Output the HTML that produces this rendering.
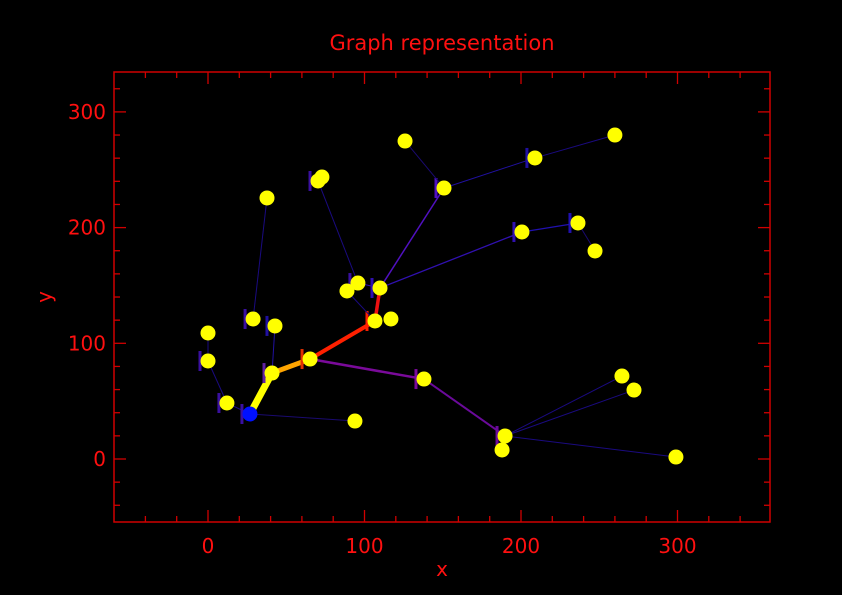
<!DOCTYPE html>
<html><head><meta charset="utf-8"><style>
body{margin:0;background:#000;}
svg{display:block;font-family:"DejaVu Sans","Liberation Sans",sans-serif;}
</style></head><body>
<svg id="chart" width="842" height="595" viewBox="0 0 842 595">
<rect width="842" height="595" fill="#000"/>
<text x="442" y="50" fill="#ff1010" font-size="21" text-anchor="middle">Graph representation</text>
<g id="axes"></g><g id="edges"></g><g id="nodes"></g>
<text x="442" y="576" fill="#ff1010" font-size="20" text-anchor="middle">x</text>
<text x="51" y="297" fill="#ff1010" font-size="20" text-anchor="middle" transform="rotate(-90 51 297)">y</text>
</svg>
<script>
const nodeIds = ["A","B","C","D","E","F","G","H","I","J","K","L","M","N","O","P","Q","R","S","T","U","V","W","X","Y","Z","AA","AB","AC","AD"];
const nodeX = [26.8,12.1,0,0,40.9,65.2,106.7,116.9,109.9,88.8,95.8,70.3,72.8,28.8,37.7,42.8,93.9,138,189.8,187.9,264.5,272.2,299,150.8,125.9,208.9,260,200.6,236.4,247.3];
const nodeY = [38.9,48.4,84.7,108.9,74.3,86.4,119.3,121,147.8,145.2,152.1,240.3,243.7,121,225.6,115,32.8,69.1,19.9,7.8,71.7,59.6,1.7,234.2,274.8,260.2,280,196.2,204,179.8];
const edgeFrom = ["A","B","D","A","E","F","G","I","X","X","Z","I","AB","AC","E","O","F","R","S","S","S","S","Q","K","M","J","L"];
const edgeTo   = ["B","C","C","E","F","G","I","X","Y","Z","AA","AB","AC","AD","P","N","R","S","T","U","V","W","A","I","L","G","K"];
const edgeWidth= [1,1,1,7,5,4,3.5,1.5,1,1,1,1.3,1.3,1,1,1,2.5,2,1,1,1,1,1,1,1,1,1];
const edgeColor= ["#1a0a80","#1a0a80","#1a0a80","#ffff00","#ffa500","#ff2000","#ee1010","#5010c0","#1a0a70","#2010a0","#1a0a80","#3010b0","#2010b0","#1a0a70","#2010a0","#1a0a80","#7a0a9a","#6a0a9a","#1a0a80","#1a0a80","#1a0a80","#1a0a80","#1a0a70","#3010b0","#1a0a80","#1a0a80","#1a0a80"];
const edgeMarker=[1,1,0,1,1,1,1,1,0,1,0,1,1,0,1,1,1,1,0,0,0,0,1,1,1,0,1];
const xTicks=[0,100,200,300], yTicks=[0,100,200,300];
const X0=208,XS=1.565,Y0=459,YS=1.157;
const sx=v=>X0+v*XS, sy=v=>Y0-v*YS;
const NS="http://www.w3.org/2000/svg";
function mk(p,t,a){const e=document.createElementNS(NS,t);for(const k in a)e.setAttribute(k,a[k]);p.appendChild(e);return e;}
const ax=document.getElementById('axes');
const L=114,R=770,T=72,B=522,RED="#d00000";
const frame=mk(ax,'rect',{x:L,y:T,width:R-L,height:B-T,fill:'none',stroke:RED,'stroke-width':1.5});


for(let v=-60;v<=360;v+=20){const px=sx(v);if(px<L+1||px>R-1)continue;const len=(v%100===0)?12:6;
 mk(ax,'line',{x1:px,y1:B,x2:px,y2:B-len,stroke:RED,'stroke-width':1.3});
 mk(ax,'line',{x1:px,y1:T,x2:px,y2:T+len,stroke:RED,'stroke-width':1.3});}
for(let v=-60;v<=360;v+=20){const py=sy(v);if(py<T+1||py>B-1)continue;const len=(v%100===0)?12:6;
 mk(ax,'line',{x1:L,y1:py,x2:L+len,y2:py,stroke:RED,'stroke-width':1.3});
 mk(ax,'line',{x1:R,y1:py,x2:R-len,y2:py,stroke:RED,'stroke-width':1.3});}
xTicks.forEach(v=>{const t=mk(ax,'text',{x:sx(v),y:553,fill:'#ff1010','font-size':20,'text-anchor':'middle'});t.textContent=v;
 
 });
yTicks.forEach(v=>{const t=mk(ax,'text',{x:106,y:sy(v)+7,fill:'#ff1010','font-size':20,'text-anchor':'end'});t.textContent=v;
 
 });
const eg=document.getElementById('edges');
const idx=id=>nodeIds.indexOf(id);
edgeFrom.forEach((f,i)=>{const a=idx(f),b=idx(edgeTo[i]);
 const x1=sx(nodeX[a]),y1=sy(nodeY[a]),x2=sx(nodeX[b]),y2=sy(nodeY[b]);
 const l=mk(eg,'line',{x1,y1,x2,y2,stroke:edgeColor[i],'stroke-width':edgeWidth[i]});
 
 
 if(edgeMarker[i]){const mc=edgeColor[i]==="#ffff00"?"#6020a0":(edgeColor[i]==="#ffa500"?"#e03000":(edgeColor[i].startsWith("#1a")?"#3a10a0":edgeColor[i]));
  const m=mk(eg,'line',{x1:x2-8,y1:y2-10,x2:x2-8,y2:y2+10,stroke:mc,'stroke-width':3});
  
  }
});
const ng=document.getElementById('nodes');
nodeIds.forEach((id,i)=>{const c=mk(ng,'circle',{cx:sx(nodeX[i]),cy:sy(nodeY[i]),r:7.5,fill:i===0?'#0010ff':'#ffff00'});
 
 });
</script>
</body></html>
